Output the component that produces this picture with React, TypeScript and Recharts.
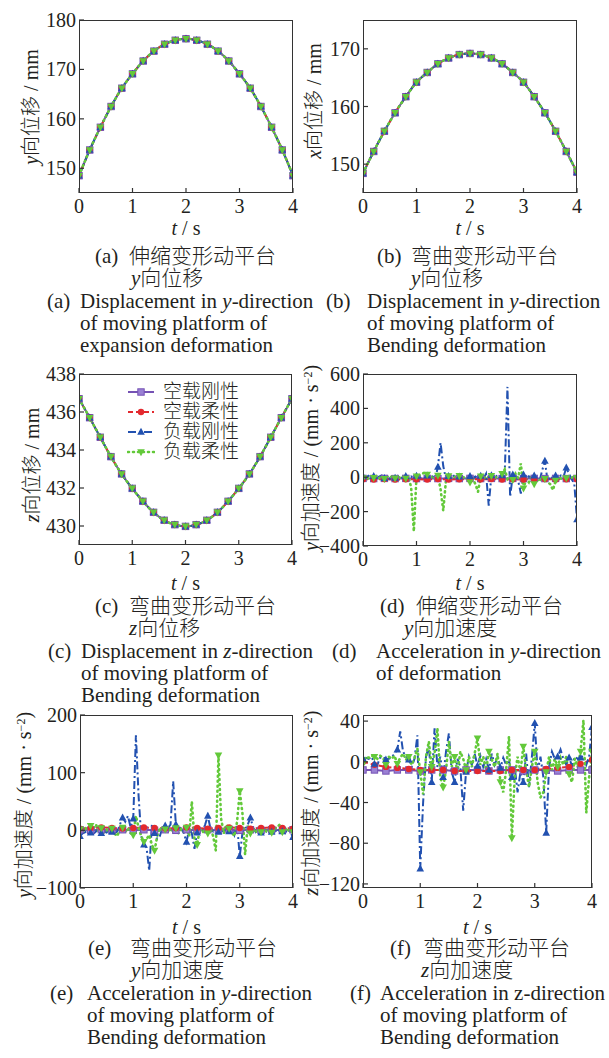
import React from "react";
import { LineChart, Line, XAxis, YAxis } from "recharts";

// series order: 空载刚性, 空载柔性, 负载刚性, 负载柔性
const SERIES_NAMES = ["空载刚性", "空载柔性", "负载刚性", "负载柔性"];
const X_TICKS = [0, 1, 2, 3, 4];

const T20 = [0, 0.2, 0.4, 0.6, 0.8, 1, 1.2, 1.4, 1.6, 1.8, 2, 2.2, 2.4, 2.6, 2.8, 3, 3.2, 3.4, 3.6, 3.8, 4];
const T80 = [
  0, 0.05, 0.1, 0.15, 0.2, 0.25, 0.3, 0.35, 0.4, 0.45, 0.5, 0.55, 0.6, 0.65, 0.7, 0.75, 0.8, 0.85, 0.9, 0.95,
  1, 1.05, 1.1, 1.15, 1.2, 1.25, 1.3, 1.35, 1.4, 1.45, 1.5, 1.55, 1.6, 1.65, 1.7, 1.75, 1.8, 1.85, 1.9, 1.95,
  2, 2.05, 2.1, 2.15, 2.2, 2.25, 2.3, 2.35, 2.4, 2.45, 2.5, 2.55, 2.6, 2.65, 2.7, 2.75, 2.8, 2.85, 2.9, 2.95,
  3, 3.05, 3.1, 3.15, 3.2, 3.25, 3.3, 3.35, 3.4, 3.45, 3.5, 3.55, 3.6, 3.65, 3.7, 3.75, 3.8, 3.85, 3.9, 3.95, 4,
];

// (a) y displacement, expansion platform
const A_DISP = [148.5, 153.7, 158.3, 162.5, 166.2, 169.1, 171.7, 173.7, 175.1, 175.9, 176.2, 175.9, 175.1, 173.7, 171.7, 169.1, 166.2, 162.5, 158.3, 153.7, 148.5];
const A_TICKS = [150, 160, 170, 180];

// (b) displacement, bending platform
const B_DISP = [148.4, 152.2, 155.7, 158.9, 161.7, 164.2, 165.9, 167.4, 168.4, 169.0, 169.2, 169.0, 168.4, 167.4, 165.9, 164.2, 161.7, 158.9, 155.7, 152.2, 148.6];
const B_TICKS = [150, 160, 170];

// (c) z displacement, bending platform
const C_DISP = [436.7, 435.7, 434.67, 433.65, 432.74, 431.98, 431.3, 430.72, 430.3, 430.07, 429.98, 430.07, 430.3, 430.72, 431.3, 431.98, 432.74, 433.65, 434.67, 435.7, 436.7];
const C_TICKS = [430, 432, 434, 436, 438];

// (d) y acceleration, expansion platform
const D_PURPLE = [-7, -8, -7, -8, -7, -8, -7, -8, -7, -8, -7, -8, -7, -8, -7, -8, -7, -8, -7, -8, -7];
const D_RED = [-12, -13, -11, -14, -12, -12, -13, -11, -14, -12, -13, -12, -11, -14, -12, -13, -12, -11, -13, -12, -12];
const D_BLUE = [
  5, -5, 8, -3, 6, -8, 4, 10, -6, 3, -10, 5, -4, 8, -7, 2, 6, -5, 4, -8,
  7, -4, 3, -6, 8, -3, 5, -8, 60, 200, 65, -10, 6, -4, 8, -5, 3, -7, 5, -3,
  6, -8, 4, -5, 7, -10, 20, -165, 10, -6, 8, 15, 10, 30, 525, -115, 15, 10, -20, -95,
  15, -8, 5, -6, 8, -10, -20, 40, 95, -25, 5, -6, 8, -4, 10, 5, 55, 20, -10, -40, -245,
];
const D_GREEN = [
  -5, 3, -8, 6, -3, 8, -6, 4, -10, 5, -4, 8, -7, 3, -5, 6, -8, 5, -60, -315,
  5, 10, 20, 25, 15, -5, 8, -10, 10, -70, -195, -20, 6, -8, 5, -3, 8, -6, 4, -10,
  -30, -5, -40, -85, 5, -8, 6, -4, 8, -10, 5, -6, 20, 45, -10, 8, -15, 20, -5, 80,
  -65, -10, -30, 5, -40, -15, -25, 8, -10, -30, -40, -75, -20, 5, -8, 6, -5, 8, -3, 5, -4,
];
const D_TICKS = [-400, -200, 0, 200, 400, 600];

// (e) y acceleration, bending platform
const E_PURPLE = [1, 0, 1, 0, 1, 0, 1, 0, 1, 0, 1, 0, 1, 0, 1, 0, 1, 0, 1, 0, 1];
const E_RED = [3, 4, 5, 4, 3, 4, 5, 4, 3, 4, 5, 4, 3, 4, 5, 4, 3, 4, 5, 4, 3];
const E_BLUE = [
  -10, -5, -3, 2, -4, -6, -2, 3, -5, -2, -4, 2, -3, -5, -2, 10, 22, 15, 25, 5,
  20, 165, 60, -10, -25, -30, -70, 10, -5, -15, -10, 5, 8, 4, 10, 85, 10, 5, 3, -5,
  -20, 2, -5, -32, -4, 2, -3, 10, 25, 3, -2, 4, -3, 2, -4, 3, -2, 5, -8, 10,
  -45, -5, 2, 10, 22, 5, -3, 2, -4, 3, -2, 4, -3, 2, -4, 3, -2, -5, 2, -3, -12,
];
const E_GREEN = [
  2, -3, 5, -2, 8, 3, 10, -2, 4, -3, 2, -4, 3, -6, -10, 2, 5, -3, 4, -5,
  -8, 25, 5, -10, -20, -15, -8, -25, -35, -10, 5, -3, 2, -4, 3, -2, 4, -5, 2, -3,
  5, -10, 50, -15, -25, 3, -4, 2, -5, 3, -10, -35, 130, 20, -5, 10, 3, -4, -10, 15,
  68, 30, -42, 8, -5, 3, -4, 2, -3, 4, -2, 3, -4, 2, 5, 10, -3, 4, -2, 3, -3,
];
const E_TICKS = [-100, 0, 100, 200];

// (f) z acceleration, bending platform
const F_PURPLE = [-8, -8, -9, -8, -8, -9, -8, -8, -9, -8, -8, -9, -8, -8, -9, -8, -8, -9, -8, -8, -8];
const F_RED = [0, -3, -5, -6, -7, -8, -8, -8, -9, -9, -9, -9, -9, -8, -8, -8, -7, -6, -5, -2, 2];
const F_BLUE = [
  3, 4, 3, 5, -2, -3, 4, 5, 2, 3, 4, 8, 12, 30, 10, 5, 2, -5, 3, 26,
  -105, -40, 5, 15, -20, 33, -5, 5, -15, 10, 28, -10, -20, 3, -5, -48, -10, 5, -3, 8,
  -4, 6, -5, 3, -8, 8, -3, 5, -6, 4, -3, 2, -15, -5, -30, -10, -20, 8, -25, 5,
  38, -10, 5, -15, -70, -5, 10, 3, 5, 12, 3, -3, 4, -4, 5, 3, 4, 6, -3, 5, 34,
];
const F_GREEN = [
  -2, 5, 4, 6, 5, 3, 6, 4, -3, 5, 3, 6, -2, 4, 8, 2, 5, -3, 4, 13,
  -10, -32, 5, 20, -5, 8, 33, -15, -25, -8, 20, -5, 5, -10, 10, 3, -8, 5, -5, 8,
  23, -3, 5, -8, 10, 2, -5, 8, -20, -30, -8, 25, -75, -15, 5, -10, 15, -8, -25, -5,
  10, -20, -35, -30, -10, 5, -8, 3, -5, 4, -3, 5, -12, -20, 3, -5, 10, 41, -50, -15, 10,
];
const F_TICKS = [-120, -80, -40, 0, 40];

const COLORS = ["#7552b4", "#e3292e", "#2251b0", "#63c93a"];
const DASHES = [undefined, "5 3", "8 3 2 3", "1 4"];
const SHAPES = ["square", "circle", "up", "down"];

const FONT = "'Liberation Serif', 'Noto Sans CJK SC', serif";
const INK = "#231f20";

type Box = { left: number; top: number; w: number; h: number };
type Series = { t: number[]; v: number[]; step: number };

const toData = (t: number[], v: number[]) => t.map((x, i) => ({ t: x, v: v[i] }));
const fmt = (n: number) => (n < 0 ? `\u2212${Math.abs(n)}` : `${n}`);

function Marker({ shape, cx, cy, color }: { shape: string; cx: number; cy: number; color: string }) {
  const s = 3.2;
  if (shape === "square")
    return <rect x={cx - s} y={cy - s} width={2 * s} height={2 * s} fill="#9a80d4" stroke={color} strokeWidth={1} />;
  if (shape === "circle") return <circle cx={cx} cy={cy} r={s} fill={color} />;
  if (shape === "up")
    return <path d={`M${cx},${cy - s - 1} L${cx + s + 0.6},${cy + s - 0.4} L${cx - s - 0.6},${cy + s - 0.4}Z`} fill={color} />;
  return <path d={`M${cx},${cy + s + 1} L${cx + s + 0.6},${cy - s + 0.4} L${cx - s - 0.6},${cy - s + 0.4}Z`} fill={color} />;
}

const YTick = (p: any) => {
  const { x, y, payload } = p;
  return (
    <g>
      <line x1={x} x2={x + 5} y1={y} y2={y} stroke="#333" strokeWidth={1.2} />
      <text x={x - 3} y={y} dy={7} textAnchor="end" fontSize={20} fontFamily={FONT} fill={INK}>
        {fmt(payload.value)}
      </text>
    </g>
  );
};

const XTick = (p: any) => {
  const { x, y, payload } = p;
  return (
    <g>
      <line x1={x} x2={x} y1={y} y2={y - 5} stroke="#333" strokeWidth={1.2} />
      <text x={x} y={y} dy={20} textAnchor="middle" fontSize={20} fontFamily={FONT} fill={INK}>
        {payload.value}
      </text>
    </g>
  );
};

function Panel({ box, domain, ticks, series, smooth, yLabel, yLabelPos, xLabelY }: {
  box: Box; domain: [number, number]; ticks: number[]; series: Series[]; smooth: boolean;
  yLabel: React.ReactNode; yLabelPos: [number, number]; xLabelY: number;
}) {
  return (
    <>
      <div style={{ position: "absolute", left: box.left - 60, top: box.top - 10 }}>
        <LineChart width={box.w + 80} height={box.h + 50} margin={{ top: 10, right: 20, left: 0, bottom: 0 }}>
          <XAxis dataKey="t" type="number" domain={[0, 4]} ticks={X_TICKS} interval={0} height={40}
            axisLine={false} tickLine={false} tickSize={0} tickMargin={0} tick={XTick} allowDataOverflow />
          <YAxis type="number" domain={domain} ticks={ticks} interval={0} width={60}
            axisLine={false} tickLine={false} tickSize={0} tickMargin={0} tick={YTick} allowDataOverflow />
          {series.map((s, k) => (
            <Line key={SERIES_NAMES[k]} name={SERIES_NAMES[k]} data={toData(s.t, s.v)} dataKey="v"
              type={smooth ? "monotone" : "linear"} stroke={COLORS[k]} strokeWidth={k === 3 ? 2.6 : 2}
              strokeDasharray={DASHES[k]} strokeLinecap={k === 3 ? "round" : "butt"}
              activeDot={false} isAnimationActive={false}
              dot={(p: any) => {
                const key = `${k}-${p.index}`;
                if (p.cx == null || p.cy == null || p.index % s.step !== 0) return <g key={key} />;
                return <g key={key}><Marker shape={SHAPES[k]} cx={p.cx} cy={p.cy} color={COLORS[k]} /></g>;
              }} />
          ))}
        </LineChart>
      </div>
      <div style={{ position: "absolute", left: box.left, top: box.top, width: box.w, height: box.h,
        border: "1.4px solid #333", boxSizing: "border-box", pointerEvents: "none" }} />
      <div style={{ position: "absolute", left: yLabelPos[0], top: yLabelPos[1], whiteSpace: "nowrap",
        transform: "translate(-50%, -50%) rotate(-90deg)", fontSize: 20, lineHeight: "20px", color: INK,
        fontWeight: 300 }}>
        {yLabel}
      </div>
      <div style={{ position: "absolute", left: box.left, width: box.w, top: xLabelY - 9, textAlign: "center",
        fontSize: 20, lineHeight: "18px", color: INK }}>
        <i>t</i> / s
      </div>
    </>
  );
}

function Txt({ x, cy, children }: { x: number; cy: number; children: React.ReactNode }) {
  return (
    <div style={{ position: "absolute", left: x, top: cy - 10, fontSize: 21, lineHeight: "20px",
      whiteSpace: "pre", color: INK, fontWeight: 300 }}>
      {children}
    </div>
  );
}

function Caption({ p, zhPX, zhX, zh, zh2X, zh2, enPX, enX, en, rowY }: {
  p: string; zhPX: number; zhX: number; zh: string; zh2X: number; zh2: React.ReactNode;
  enPX: number; enX: number; en: React.ReactNode[]; rowY: number[];
}) {
  return (
    <>
      <Txt x={zhPX} cy={rowY[0]}>{`(${p})`}</Txt>
      <Txt x={zhX} cy={rowY[0]}>{zh}</Txt>
      <Txt x={zh2X} cy={rowY[1]}>{zh2}</Txt>
      <Txt x={enPX} cy={rowY[2]}>{`(${p})`}</Txt>
      {en.map((e, i) => (
        <Txt key={i} x={enX} cy={rowY[2 + i]}>{e}</Txt>
      ))}
    </>
  );
}

const ACC = (v: string) => (
  <>
    <i>{v}</i>向加速度 / (mm · s<sup style={{ fontSize: 12, verticalAlign: "6px", lineHeight: 0 }}>−2</sup>)
  </>
);

function LegendBox() {
  const rows = [392, 412, 432, 452];
  return (
    <>
      {SERIES_NAMES.map((n, k) => (
        <div key={n} style={{ position: "absolute", left: 127, top: rows[k] - 9, height: 18, lineHeight: "18px",
          display: "flex", alignItems: "center", fontSize: 19, color: INK, whiteSpace: "nowrap", fontWeight: 300 }}>
          <svg width={28} height={12} style={{ marginRight: 8 }}>
            <line x1={1} x2={27} y1={6} y2={6} stroke={COLORS[k]} strokeWidth={k === 3 ? 2.6 : 2}
              strokeDasharray={DASHES[k]} strokeLinecap={k === 3 ? "round" : "butt"} />
            <Marker shape={SHAPES[k]} cx={14} cy={6} color={COLORS[k]} />
          </svg>
          {n}
        </div>
      ))}
    </>
  );
}

const disp = (v: number[]): Series[] => [0, 1, 2, 3].map(() => ({ t: T20, v, step: 1 }));
const acc = (pu: number[], re: number[], bl: number[], gr: number[]): Series[] => [
  { t: T20, v: pu, step: 1 },
  { t: T20, v: re, step: 1 },
  { t: T80, v: bl, step: 4 },
  { t: T80, v: gr, step: 4 },
];

const ROW1 = [256, 278, 301, 323, 345];
const ROW2 = [606, 628, 651, 673, 695];
const ROW3 = [948, 970, 993, 1015, 1037];

export default function App() {
  return (
    <div style={{ position: "absolute", left: 0, top: 0, width: 609, height: 1058, background: "#fff",
      fontFamily: FONT, color: INK, overflow: "hidden" }}>
      <Panel box={{ left: 79, top: 20, w: 214, h: 173 }} domain={[145, 180]} ticks={A_TICKS}
        series={disp(A_DISP)} smooth yLabel={<><i>y</i>向位移 / mm</>} yLabelPos={[31, 107]} xLabelY={228} />
      <Panel box={{ left: 363, top: 20, w: 214, h: 173 }} domain={[145, 175]} ticks={B_TICKS}
        series={disp(B_DISP)} smooth yLabel={<><i>x</i>向位移 / mm</>} yLabelPos={[314, 101]} xLabelY={228} />
      <Panel box={{ left: 79, top: 374, w: 213, h: 171 }} domain={[429, 438]} ticks={C_TICKS}
        series={disp(C_DISP)} smooth yLabel={<><i>z</i>向位移 / mm</>} yLabelPos={[32, 465]} xLabelY={583} />
      <Panel box={{ left: 363, top: 374, w: 214, h: 172 }} domain={[-400, 600]} ticks={D_TICKS}
        series={acc(D_PURPLE, D_RED, D_BLUE, D_GREEN)} smooth={false} yLabel={ACC("y")}
        yLabelPos={[311, 458]} xLabelY={583} />
      <Panel box={{ left: 80, top: 715, w: 213, h: 173 }} domain={[-100, 200]} ticks={E_TICKS}
        series={acc(E_PURPLE, E_RED, E_BLUE, E_GREEN)} smooth={false} yLabel={ACC("y")}
        yLabelPos={[24, 805]} xLabelY={927} />
      <Panel box={{ left: 363, top: 715, w: 229, h: 173 }} domain={[-124, 46]} ticks={F_TICKS}
        series={acc(F_PURPLE, F_RED, F_BLUE, F_GREEN)} smooth={false} yLabel={ACC("z")}
        yLabelPos={[311, 803]} xLabelY={927} />

      <LegendBox />

      <Caption p="a" zhPX={95} zhX={129} zh="伸缩变形动平台" zh2X={131} zh2={<><i>y</i>向位移</>}
        enPX={47} enX={80} en={[<>Displacement in <i>y</i>-direction</>, "of moving platform of", "expansion deformation"]} rowY={ROW1} />
      <Caption p="b" zhPX={377} zhX={411} zh="弯曲变形动平台" zh2X={411} zh2={<><i>y</i>向位移</>}
        enPX={326} enX={367} en={[<>Displacement in <i>y</i>-direction</>, "of moving platform of", "Bending deformation"]} rowY={ROW1} />
      <Caption p="c" zhPX={95} zhX={129} zh="弯曲变形动平台" zh2X={129} zh2={<><i>z</i>向位移</>}
        enPX={48} enX={81} en={[<>Displacement in <i>z</i>-direction</>, "of moving platform of", "Bending deformation"]} rowY={ROW2} />
      <Caption p="d" zhPX={380} zhX={416} zh="伸缩变形动平台" zh2X={404} zh2={<><i>y</i>向加速度</>}
        enPX={332} enX={376} en={[<>Acceleration in <i>y</i>-direction</>, "of deformation"]} rowY={ROW2} />
      <Caption p="e" zhPX={88} zhX={130} zh="弯曲变形动平台" zh2X={131} zh2={<><i>y</i>向加速度</>}
        enPX={50} enX={87} en={[<>Acceleration in <i>y</i>-direction</>, "of moving platform of", "Bending deformation"]} rowY={ROW3} />
      <Caption p="f" zhPX={390} zhX={423} zh="弯曲变形动平台" zh2X={421} zh2={<><i>z</i>向加速度</>}
        enPX={350} enX={380} en={["Acceleration in z-direction", "of moving platform of", "Bending deformation"]} rowY={ROW3} />
    </div>
  );
}
